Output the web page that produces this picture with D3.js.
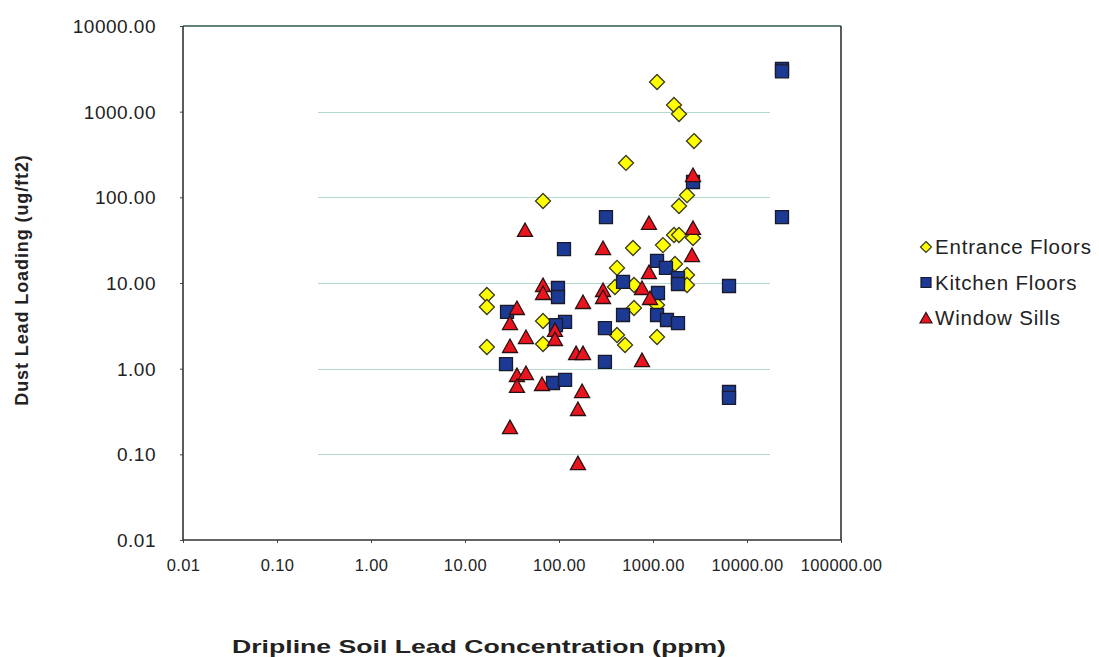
<!DOCTYPE html>
<html>
<head>
<meta charset="utf-8">
<script src="https://cdn.jsdelivr.net/npm/d3@7"></script>
<style>
  html, body { margin: 0; padding: 0; background: #ffffff; }
  svg { display: block; }
  text { font-family: "Liberation Sans", Arial, sans-serif; fill: #222; }
</style>
</head>
<body>
<svg id="chart" width="1099" height="657"></svg>
<script>
// ---------- data (x = dripline soil lead ppm, y = dust lead loading ug/ft2) ----------
const entranceX = [17.1, 17.1, 17.1, 67.6, 67.6, 67.6, 516, 613, 1277, 1673, 1891, 2665, 414, 1714, 2300, 2300, 394, 628, 1104, 628, 414, 504, 1104, 1104, 1673, 1891, 2730, 2300, 1891];
const entranceY = [7.24, 5.25, 1.79, 90.6, 3.60, 1.94, 252, 25.6, 27.7, 36.3, 36.3, 33.5, 15.0, 16.7, 12.4, 9.48, 8.98, 9.48, 5.53, 5.11, 2.47, 1.89, 2.34, 2218, 1196, 939, 454, 106, 79.2];

const kitchenX = [28.0, 27.3, 97.5, 97.5, 116, 92.8, 86.3, 116, 316, 113, 1104, 1374, 1845, 1845, 480, 1130, 480, 1104, 1409, 1845, 308, 308, 2665, 23570, 23570, 23570, 6437, 6437, 6437];
const kitchenY = [4.59, 1.13, 8.74, 6.86, 3.51, 3.23, 0.680, 0.738, 58.9, 24.9, 18.1, 15.0, 11.4, 9.73, 10.3, 7.64, 4.23, 4.23, 3.70, 3.41, 2.98, 1.20, 151, 3150, 2950, 58.9, 9.23, 0.534, 0.455];

const windowX = [43.5, 35.7, 30.1, 44.5, 30.1, 67.6, 67.6, 90.6, 90.6, 180, 152, 180, 35.7, 44.5, 35.7, 65.9, 176, 159, 30.1, 159, 294, 2665, 2600, 906, 294, 294, 764, 929, 764, 2665, 906];
const windowY = [41.6, 5.11, 3.41, 2.34, 1.84, 9.48, 7.64, 2.83, 2.22, 6.00, 1.52, 1.52, 0.843, 0.889, 0.628, 0.662, 0.548, 0.338, 0.208, 0.079, 25.6, 43.9, 21.2, 13.4, 8.28, 6.86, 8.74, 6.68, 1.26, 182, 50.2];

const seriesNames = ["Entrance Floors", "Kitchen Floors", "Window Sills"];
const xTickValues = [0.01, 0.1, 1, 10, 100, 1000, 10000, 100000];
const yTickValues = [0.01, 0.1, 1, 10, 100, 1000, 10000];
const xTitle = "Dripline Soil Lead Concentration (ppm)";
const yTitle = "Dust Lead Loading (ug/ft2)";

// ---------- layout ----------
const svg = d3.select("#chart");
const plot = { left: 183, top: 26, right: 841, bottom: 540 };

const x = d3.scaleLog().domain([0.01, 100000]).range([plot.left, plot.right]);
const y = d3.scaleLog().domain([0.01, 10000]).range([plot.bottom, plot.top]);
const fmt = d3.format(".2f");

// gridlines (faint, partial width as in the scanned original)
const gridG = svg.append("g");
gridG.selectAll("line")
  .data(yTickValues.filter(v => v > 0.01 && v < 10000))
  .enter().append("line")
  .attr("x1", 318).attr("x2", 770)
  .attr("y1", d => Math.round(y(d)) + 0.5).attr("y2", d => Math.round(y(d)) + 0.5)
  .attr("stroke", "#b4d9cf").attr("stroke-width", 1.2);

// axes
const xAxis = d3.axisBottom(x).tickValues(xTickValues).tickFormat(fmt).tickSize(3).tickPadding(16);
const yAxis = d3.axisLeft(y).tickValues(yTickValues).tickFormat(fmt).tickSize(3).tickPadding(24);

const xg = svg.append("g").attr("transform", `translate(0,${plot.bottom})`).call(xAxis);
const yg = svg.append("g").attr("transform", `translate(${plot.left},0)`).call(yAxis);
[xg, yg].forEach(g => {
  g.select(".domain").remove();
  g.selectAll(".tick line").attr("stroke", "#444");
  g.selectAll(".tick text").attr("fill", "#222").style("font-family", '"Liberation Sans", Arial, sans-serif');
});
xg.selectAll(".tick text").style("font-size", "16.5px").attr("letter-spacing", "0.4");
yg.selectAll(".tick text").style("font-size", "19px").attr("letter-spacing", "0.5").attr("dy", "0.34em");

// plot frame
svg.append("line").attr("x1", plot.left).attr("x2", plot.right).attr("y1", plot.top).attr("y2", plot.top)
  .attr("stroke", "#2f5a4c").attr("stroke-width", 1.6);
svg.append("line").attr("x1", plot.left).attr("x2", plot.left).attr("y1", plot.top).attr("y2", plot.bottom)
  .attr("stroke", "#333").attr("stroke-width", 1.6);
svg.append("line").attr("x1", plot.right).attr("x2", plot.right).attr("y1", plot.top).attr("y2", plot.bottom)
  .attr("stroke", "#333").attr("stroke-width", 1.6);
svg.append("line").attr("x1", plot.left).attr("x2", plot.right).attr("y1", plot.bottom).attr("y2", plot.bottom)
  .attr("stroke", "#333").attr("stroke-width", 1.6);

// markers
const diamondPath = "M0,-7.5L7.5,0L0,7.5L-7.5,0Z";
const squarePath = "M-6.5,-6.5H6.5V6.5H-6.5Z";
const trianglePath = "M0,-7L7.5,6.5H-7.5Z";

const series = [
  { name: seriesNames[0], xs: entranceX, ys: entranceY, path: diamondPath, fill: "#ffff00", stroke: "#3a3a1a" },
  { name: seriesNames[1], xs: kitchenX, ys: kitchenY, path: squarePath, fill: "#1c3a94", stroke: "#1a1a2a" },
  { name: seriesNames[2], xs: windowX, ys: windowY, path: trianglePath, fill: "#e8141e", stroke: "#2a1010" }
];

series.forEach(s => {
  const pts = s.xs.map((v, i) => [v, s.ys[i]]);
  svg.append("g").selectAll("path").data(pts).enter().append("path")
    .attr("d", s.path)
    .attr("transform", d => `translate(${x(d[0])},${y(d[1])})`)
    .attr("fill", s.fill).attr("stroke", s.stroke).attr("stroke-width", 1.3);
});

// legend
const legend = svg.append("g");
const legendPaths = ["M0,-5.5L5.5,0L0,5.5L-5.5,0Z", "M-5,-5H5V5H-5Z", "M0,-5.5L6,5H-6Z"];
series.forEach((s, i) => {
  const cy = 247 + i * 35.5;
  legend.append("path").attr("d", legendPaths[i])
    .attr("transform", `translate(926,${cy})`)
    .attr("fill", s.fill).attr("stroke", s.stroke).attr("stroke-width", 1.2);
  legend.append("text").attr("x", 935).attr("y", cy).attr("dy", "0.36em")
    .style("font-size", "20.5px").attr("letter-spacing", "0.8")
    .text(s.name);
});

// axis titles
svg.append("text")
  .attr("x", 479).attr("y", 653)
  .attr("text-anchor", "middle")
  .attr("textLength", 494).attr("lengthAdjust", "spacingAndGlyphs")
  .style("font-size", "19px").style("font-weight", "bold")
  .text(xTitle);

svg.append("text")
  .attr("transform", "translate(28,280) rotate(-90)")
  .attr("text-anchor", "middle")
  .style("font-size", "18px").style("font-weight", "bold").attr("letter-spacing", "0.9")
  .text(yTitle);
</script>
</body>
</html>
